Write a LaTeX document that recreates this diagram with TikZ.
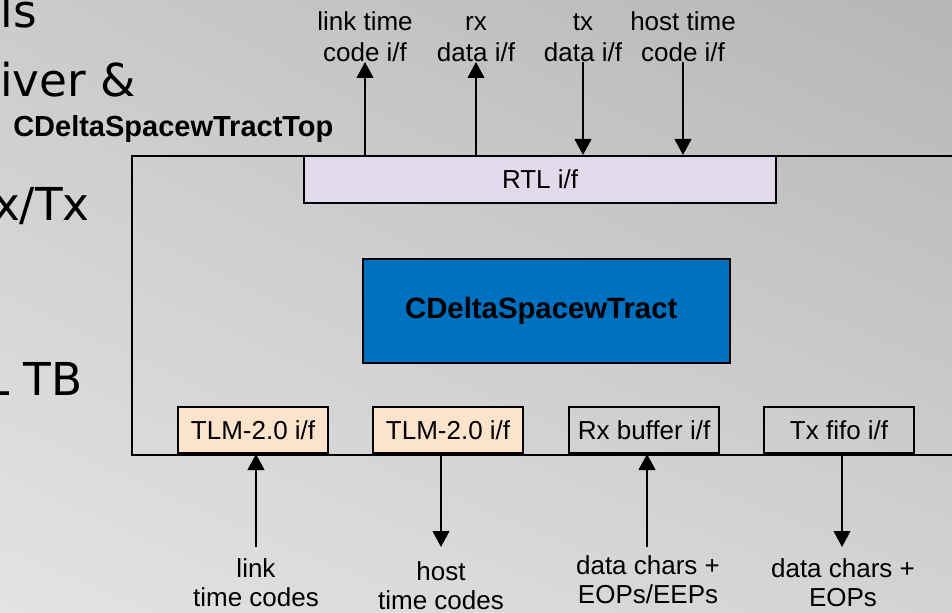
\documentclass[tikz,border=0pt]{standalone}
\usepackage{fontspec}
\setmainfont{Liberation Sans}
\newfontfamily\bigfont{DejaVu Sans}
\usetikzlibrary{arrows.meta,shadings}
\definecolor{bgUL}{HTML}{CBCBCB}
\definecolor{bgUR}{HTML}{B6B6B6}
\definecolor{bgLL}{HTML}{E3E3E3}
\definecolor{bgLR}{HTML}{D3D3D3}
\definecolor{rtlfill}{HTML}{E2DAEB}
\definecolor{tlmfill}{HTML}{FCE4CC}
\definecolor{corefill}{HTML}{0070C0}
\begin{document}
\begin{tikzpicture}[x=0.75pt,y=-0.75pt,
  every node/.style={inner sep=0pt},
  box/.style={draw=black, line width=1.6pt},
  ifbox/.style={box, anchor=south west, minimum width=112.5pt, minimum height=34.5pt,
    font=\fontsize{19.5}{23.5}\selectfont},
  lbl/.style={font=\fontsize{19.5}{23.5}\selectfont, align=center},
  blbl/.style={font=\fontsize{19.5}{22}\selectfont, align=center, anchor=north},
  bigtxt/.style={font=\bigfont\fontsize{34}{40}\selectfont, anchor=base east},
  arr/.style={line width=1.6pt, -{Triangle[length=12pt,width=12.5pt]}}]
\useasboundingbox (0,0) rectangle (952,613);
\shade[upper left=bgUL, upper right=bgUR, lower left=bgLL, lower right=bgLR]
  (0,0) rectangle (952,613);
\clip (0,0) rectangle (952,613);
% background slide text (cut off)
\node[bigtxt] (s1) at (37,28) {ls};
\node[bigtxt] (s2) at (136,97) {iver \&};
\node[bigtxt] (s3) at (90,220) {x/Tx};
\node[bigtxt] (s4) at (83,395) {L TB};
% container
\node[box, anchor=north west, minimum width=629.25pt, minimum height=224.25pt] (topbox) at (131,155) {};
\node[font=\bfseries\fontsize{21.75}{26}\selectfont, anchor=base west] (toplbl) at (13,137) {CDeltaSpacewTractTop};
% RTL interface
\node[box, fill=rtlfill, anchor=north west, minimum width=354pt, minimum height=35.25pt,
  font=\fontsize{19.5}{23.5}\selectfont] (rtl) at (303,155) {RTL i/f};
% core
\node[box, fill=corefill, anchor=north west, minimum width=275.25pt, minimum height=78pt,
  font=\bfseries\fontsize{22}{26}\selectfont] (core) at (362,258) {CDeltaSpacewTract\kern8pt};
% bottom interfaces
\node[ifbox, fill=tlmfill] (tlm1) at (177,454) {TLM-2.0 i/f};
\node[ifbox, fill=tlmfill] (tlm2) at (372,454) {TLM-2.0 i/f};
\node[ifbox] (rxb) at (568,454) {Rx buffer i/f};
\node[ifbox] (txf) at (763,454) {Tx fifo i/f};
% top labels and arrows
\node[lbl, anchor=south] (ltc) at (365,62) {link time\\code i/f};
\node[lbl, anchor=south] (rxd) at (476,62) {rx\\data i/f};
\node[lbl, anchor=south] (txd) at (583,62) {tx\\data i/f};
\node[lbl, anchor=south] (htc) at (683,62) {host time\\code i/f};
\draw[arr] (ltc.south |- rtl.north) -- (ltc.south);
\draw[arr] (rxd.south |- rtl.north) -- (rxd.south);
\draw[arr] (txd.south) -- (txd.south |- rtl.north);
\draw[arr] (htc.south) -- (htc.south |- rtl.north);
% bottom labels and arrows
\coordinate (b1) at (256,547);
\coordinate (b2) at (441,547);
\coordinate (b3) at (647,547);
\coordinate (b4) at (842,547);
\node[blbl] (l1) at (256,558) {link\\time codes};
\node[blbl] (l2) at (441,561) {host\\time codes};
\node[blbl] (l3) at (648,555) {data chars +\\EOPs/EEPs};
\node[blbl] (l4) at (843,558) {data chars +\\EOPs};
\draw[arr] (b1) -- (b1 |- tlm1.south);
\draw[arr] (b2 |- tlm2.south) -- (b2);
\draw[arr] (b3) -- (b3 |- rxb.south);
\draw[arr] (b4 |- txf.south) -- (b4);
\end{tikzpicture}
\end{document}
